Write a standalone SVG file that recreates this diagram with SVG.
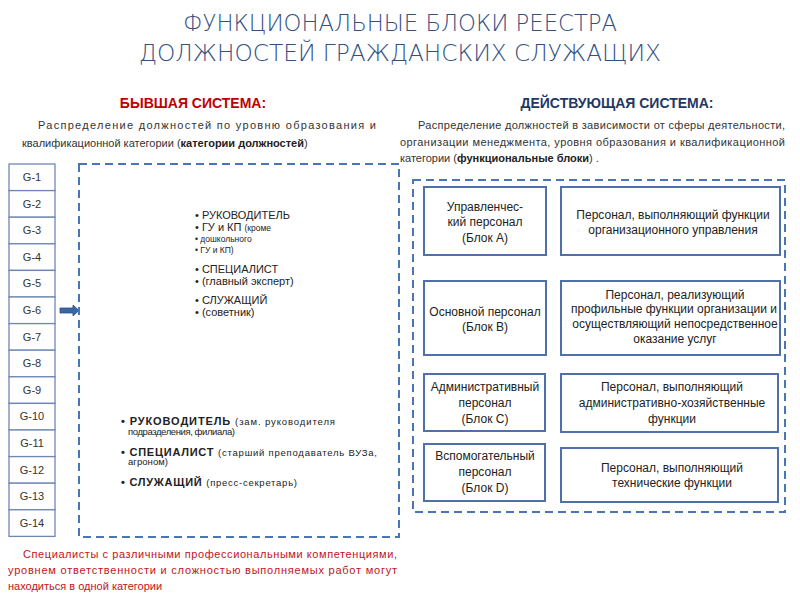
<svg xmlns="http://www.w3.org/2000/svg" width="800" height="600" viewBox="0 0 800 600">
<style>
.title{font-family:"DejaVu Sans","Liberation Sans",sans-serif;font-weight:200;font-size:23px;fill:#34507f}
.hdr{font-family:"Liberation Sans",Arial,sans-serif;font-weight:bold;font-size:14px}
.p{font-family:"Liberation Sans",Arial,sans-serif;font-size:11px;fill:#333}
.red{fill:#c0141a}
.b{font-weight:bold;fill:#222}
.cell{fill:#fff;stroke:#6f87b5;stroke-width:1.3}
.ct{font-family:"Liberation Sans",Arial,sans-serif;font-size:11px;fill:#333;text-anchor:middle}
.dash{fill:none;stroke:#4a76b8;stroke-width:2;stroke-dasharray:8,5}
.box{fill:#fff;stroke:#4f70a8;stroke-width:2}
.bt{font-family:"Liberation Sans",Arial,sans-serif;font-size:12px;fill:#222;text-anchor:middle}
.l{font-family:"Liberation Sans",Arial,sans-serif;fill:#222}
</style>
<rect width="800" height="600" fill="#fff"/>
<g id="title">
<text class="title" x="400" y="31" text-anchor="middle" textLength="434" lengthAdjust="spacingAndGlyphs">ФУНКЦИОНАЛЬНЫЕ БЛОКИ  РЕЕСТРА</text>
<text class="title" x="400" y="61" text-anchor="middle" textLength="522" lengthAdjust="spacingAndGlyphs">ДОЛЖНОСТЕЙ ГРАЖДАНСКИХ СЛУЖАЩИХ</text>
</g>
<g id="old-header">
<text class="hdr" x="193" y="108" text-anchor="middle" fill="#c00000">БЫВШАЯ СИСТЕМА:</text>
<text class="p" x="38" y="129" textLength="338" lengthAdjust="spacing">Распределение должностей по уровню образования и</text>
<text class="p" x="22" y="147">квалификационной категории (<tspan class="b">категории должностей</tspan>)</text>
</g>
<g id="new-header">
<text class="hdr" x="617" y="108" text-anchor="middle" fill="#1f3864" font-size="14.6">ДЕЙСТВУЮЩАЯ СИСТЕМА:</text>
<text class="p" x="418" y="129" textLength="367" lengthAdjust="spacing">Распределение должностей в зависимости от сферы деятельности,</text>
<text class="p" x="400" y="146" textLength="385" lengthAdjust="spacing">организации менеджмента, уровня образования и квалификационной</text>
<text class="p" x="400" y="162">категории (<tspan class="b">функциональные блоки</tspan>) .</text>
</g>
<g id="grades">
<rect class="cell" x="9" y="164" width="46" height="26.6"/>
<rect class="cell" x="9" y="190.6" width="46" height="26.6"/>
<rect class="cell" x="9" y="217.2" width="46" height="26.6"/>
<rect class="cell" x="9" y="243.8" width="46" height="26.6"/>
<rect class="cell" x="9" y="270.4" width="46" height="26.6"/>
<rect class="cell" x="9" y="297" width="46" height="26.6"/>
<rect class="cell" x="9" y="323.6" width="46" height="26.6"/>
<rect class="cell" x="9" y="350.2" width="46" height="26.6"/>
<rect class="cell" x="9" y="376.8" width="46" height="26.6"/>
<rect class="cell" x="9" y="403.4" width="46" height="26.6"/>
<rect class="cell" x="9" y="430" width="46" height="26.6"/>
<rect class="cell" x="9" y="456.6" width="46" height="26.6"/>
<rect class="cell" x="9" y="483.2" width="46" height="26.6"/>
<rect class="cell" x="9" y="509.8" width="46" height="26.6"/>
<text class="ct" x="32" y="181">G-1</text>
<text class="ct" x="32" y="208">G-2</text>
<text class="ct" x="32" y="234">G-3</text>
<text class="ct" x="32" y="261">G-4</text>
<text class="ct" x="32" y="287">G-5</text>
<text class="ct" x="32" y="314">G-6</text>
<text class="ct" x="32" y="341">G-7</text>
<text class="ct" x="32" y="367">G-8</text>
<text class="ct" x="32" y="394">G-9</text>
<text class="ct" x="32" y="420">G-10</text>
<text class="ct" x="32" y="447">G-11</text>
<text class="ct" x="32" y="474">G-12</text>
<text class="ct" x="32" y="500">G-13</text>
<text class="ct" x="32" y="527">G-14</text>
</g>
<g id="connectors">
<path d="M60,308 H73 V305 L79,310.5 L73,316 V313 H60 Z" fill="#3a67a8" stroke="#2c4f80" stroke-width="0.8"/>
</g>
<g id="old-system">
<rect class="dash" x="79" y="164" width="320" height="373"/>
<g class="l" font-size="11">
<text x="195" y="219">• РУКОВОДИТЕЛЬ</text>
<text x="195" y="231">• ГУ и КП <tspan font-size="8.5">(кроме</tspan></text>
<text x="195" y="242" font-size="8.5">•  дошкольного</text>
<text x="195" y="253" font-size="8.5">•  ГУ и КП)</text>
<text x="195" y="273">• СПЕЦИАЛИСТ</text>
<text x="195" y="285">• (главный эксперт)</text>
<text x="195" y="304">• СЛУЖАЩИЙ</text>
<text x="195" y="316">• (советник)</text>
</g>
<g class="l">
<text x="121" y="424.5" font-size="11" textLength="214" lengthAdjust="spacing"><tspan font-weight="bold">• РУКОВОДИТЕЛЬ</tspan> <tspan font-size="9.5">(зам. руководителя</tspan></text>
<text x="128" y="434.5" font-size="9.5" textLength="107" lengthAdjust="spacing">подразделения, филиала)</text>
<text x="121" y="455.5" font-size="11" textLength="256" lengthAdjust="spacing"><tspan font-weight="bold">• СПЕЦИАЛИСТ</tspan> <tspan font-size="9.5">(старший преподаватель ВУЗа,</tspan></text>
<text x="128" y="465" font-size="9.5" textLength="40" lengthAdjust="spacing">агроном)</text>
<text x="121" y="485.5" font-size="11" textLength="176" lengthAdjust="spacing"><tspan font-weight="bold">• СЛУЖАЩИЙ</tspan> <tspan font-size="9.5">(пресс-секретарь)</tspan></text>
</g>
</g>
<g id="new-system">
<rect class="dash" x="413" y="180" width="372" height="332"/>
</g>
<g id="block-a">
<rect class="box" x="424" y="187" width="122" height="68"/>
<text class="bt" x="485" y="211">Управленчес-</text>
<text class="bt" x="485" y="226">кий персонал</text>
<text class="bt" x="485" y="242">(Блок А)</text>
</g>
<g id="func-a">
<rect class="box" x="561" y="187" width="219" height="68"/>
<text class="bt" x="673" y="219">Персонал, выполняющий функции</text>
<text class="bt" x="673" y="234">организационного управления</text>
</g>
<g id="block-b">
<rect class="box" x="424" y="281" width="122" height="74"/>
<text class="bt" x="485" y="316">Основной персонал</text>
<text class="bt" x="485" y="331">(Блок В)</text>
</g>
<g id="func-b">
<rect class="box" x="561" y="281" width="219" height="74"/>
<text class="bt" x="675" y="299" font-size="11.4">Персонал, реализующий</text>
<text class="bt" x="674" y="313" font-size="11">профильные функции организации и</text>
<text class="bt" x="675" y="328" font-size="11">осуществляющий непосредственное</text>
<text class="bt" x="675" y="343" font-size="11.4">оказание услуг</text>
</g>
<g id="block-c">
<rect class="box" x="424" y="374" width="121" height="57"/>
<text class="bt" x="485" y="391">Административный</text>
<text class="bt" x="485" y="407">персонал</text>
<text class="bt" x="485" y="423">(Блок С)</text>
</g>
<g id="func-c">
<rect class="box" x="561" y="374" width="217" height="58"/>
<text class="bt" x="672" y="391">Персонал, выполняющий</text>
<text class="bt" x="672" y="407">административно-хозяйственные</text>
<text class="bt" x="672" y="423">функции</text>
</g>
<g id="block-d">
<rect class="box" x="424" y="444" width="121" height="57"/>
<text class="bt" x="485" y="460">Вспомогательный</text>
<text class="bt" x="485" y="476">персонал</text>
<text class="bt" x="485" y="492">(Блок D)</text>
</g>
<g id="func-d">
<rect class="box" x="561" y="448" width="217" height="54"/>
<text class="bt" x="672" y="472">Персонал, выполняющий</text>
<text class="bt" x="672" y="487">технические функции</text>
</g>
<g id="note">
<text class="p red" x="23" y="558" textLength="374" lengthAdjust="spacing">Специалисты с различными профессиональными компетенциями,</text>
<text class="p red" x="8" y="574" textLength="389" lengthAdjust="spacing">уровнем ответственности и сложностью выполняемых работ могут</text>
<text class="p red" x="8" y="590">находиться в одной категории</text>
</g>
</svg>
